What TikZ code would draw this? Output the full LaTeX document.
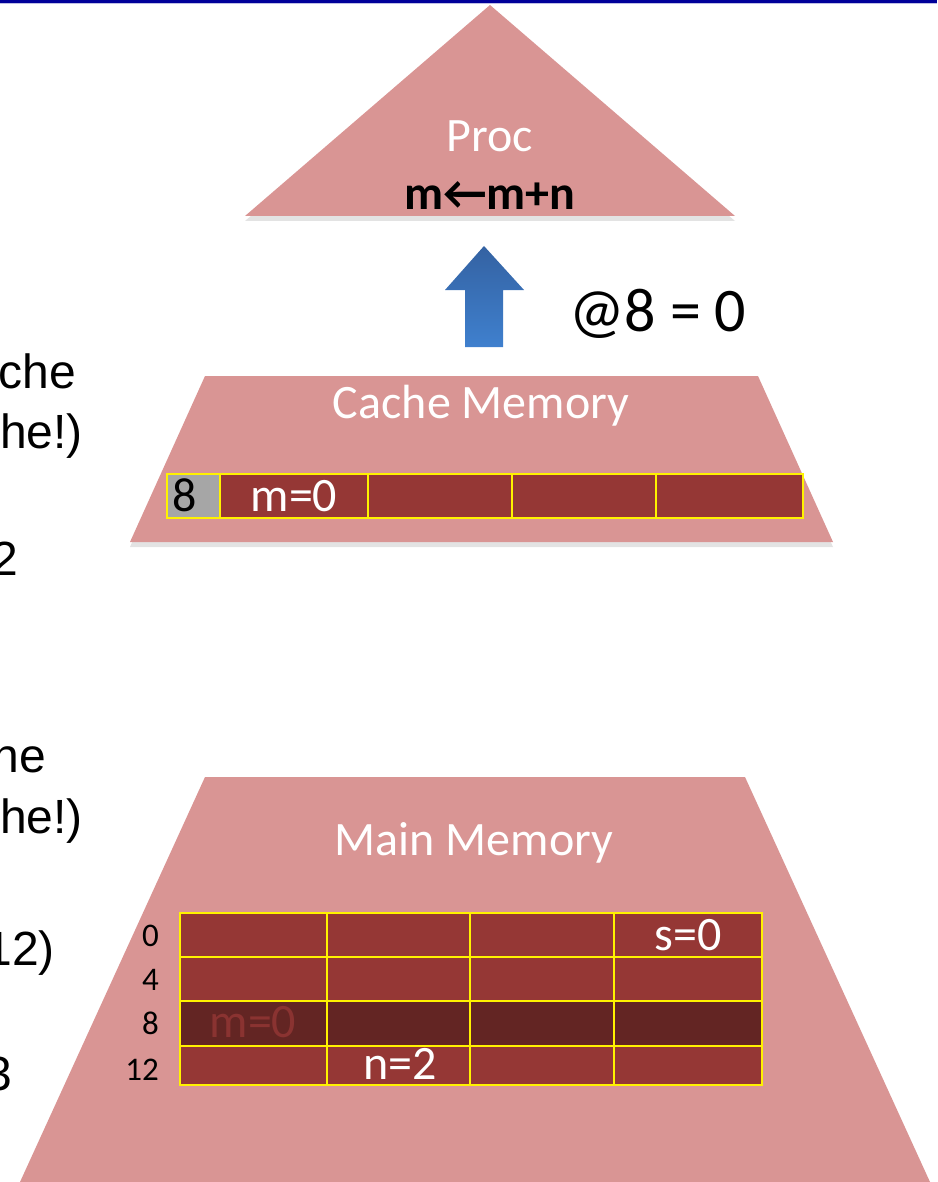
\documentclass[tikz,border=0pt]{standalone}
\usepackage{fontspec}
\setmainfont{Carlito}
\newfontfamily\arialfont{Liberation Sans}
\usetikzlibrary{calc,shadows}
\definecolor{pyrpink}{HTML}{D99594}
\definecolor{cellred}{HTML}{953735}
\definecolor{celldark}{HTML}{632523}
\definecolor{dimred}{HTML}{8A3331}
\definecolor{cellgray}{HTML}{A6A6A6}
\definecolor{arrowtop}{HTML}{3462A2}
\definecolor{arrowbot}{HTML}{3F80CE}
\definecolor{barblue}{HTML}{000099}
\newcommand{\slidefont}{\fontsize{48}{54}\selectfont}
\tikzset{
  level/.style={fill=pyrpink, drop shadow={shadow xshift=0pt, shadow yshift=-5pt, opacity=0.22}},
  cell/.style={draw=yellow, line width=1.8pt},
  wtext/.style={text=white, font=\slidefont, inner sep=0pt, anchor=base},
  addr/.style={font=\fontsize{33}{38}\selectfont, inner sep=0pt, anchor=base east},
  cuttext/.style={font=\arialfont\fontsize{48}{54}\selectfont, inner sep=0pt, anchor=base east}
}
\begin{document}
\begin{tikzpicture}[x=1pt,y=-1pt]
    \useasboundingbox (0,0) rectangle (937,1182);
    \fill[barblue] (0,0) rectangle (937,3);
    \draw[barblue!25, line width=0.8pt] (0,3.8) -- (937,3.8);

    \coordinate (P1) at (490,5);
    \coordinate (P2) at (245,216);
    \coordinate (P3) at (735,216);
    \fill[level] (P1) -- (P2) -- (P3) -- cycle;

    \coordinate (C1) at (205,376);
    \coordinate (C2) at (758,376);
    \coordinate (C3) at (833,542);
    \coordinate (C4) at (130,542);
    \fill[level] (C1) -- (C2) -- (C3) -- (C4) -- cycle;

    \coordinate (M1) at (205,777);
    \coordinate (M2) at (745,777);
    \coordinate (M3) at (930,1182);
    \coordinate (M4) at (20,1182);
    \fill[level] (M1) -- (M2) -- (M3) -- (M4) -- cycle;

    \node[wtext] (proc) at (490,152) {Proc};
    \node[font=\slidefont\bfseries, inner sep=0pt, anchor=base] (op) at (490,210) {m←m+n};

    \shade[top color=arrowtop, bottom color=arrowbot]
        (465,347) -- (465,290) -- (445,290) -- (484,246) -- (524,290) -- (503,290) -- (503,347) -- cycle;
    \node[font=\fontsize{62}{68}\selectfont, inner sep=0pt, anchor=base west] (readval) at (569,331) {@8 = 0};

    \node[wtext] (cachelbl) at (481,418) {Cache Memory};
    \draw[cell, fill=cellgray] (167,474) rectangle (220,518);
    \foreach \a/\b in {220/368, 368/512, 512/656, 656/803}
        \draw[cell, fill=cellred] (\a,474) rectangle (\b,518);
    \node[font=\slidefont, inner sep=0pt, anchor=base] (tag) at (185,511) {8};
    \node[wtext] (cm) at (294,511) {m=0};

    \node[wtext] (mainlbl) at (474,855) {Main Memory};
    \foreach \y/\h/\f in {913/44/cellred, 957/44/cellred, 1001/45/celldark, 1046/39/cellred}
        \foreach \a/\b in {180/327, 327/470, 470/614, 614/762}
            \draw[cell, fill=\f] (\a,\y) rectangle (\b,\y+\h);
    \foreach \t/\y in {0/946, 4/990, 8/1034, 12/1080}
        \node[addr] (a\t) at (159,\y) {\t};
    \node[wtext] (ms) at (688,950) {s=0};
    \node[wtext, text=dimred] (mm) at (253,1037) {m=0};
    \node[wtext] (mn) at (400,1079) {n=2};

    \node[cuttext] (l1) at (76,388) {che};
    \node[cuttext] (l2) at (83,448) {he!)};
    \node[cuttext] (l3) at (18,575) {2};
    \node[cuttext] (l4) at (46,772) {ne};
    \node[cuttext] (l5) at (83,833) {he!)};
    \node[cuttext] (l6) at (55,965) {12)};
    \node[cuttext] (l7) at (12,1090) {3};
\end{tikzpicture}
\end{document}
